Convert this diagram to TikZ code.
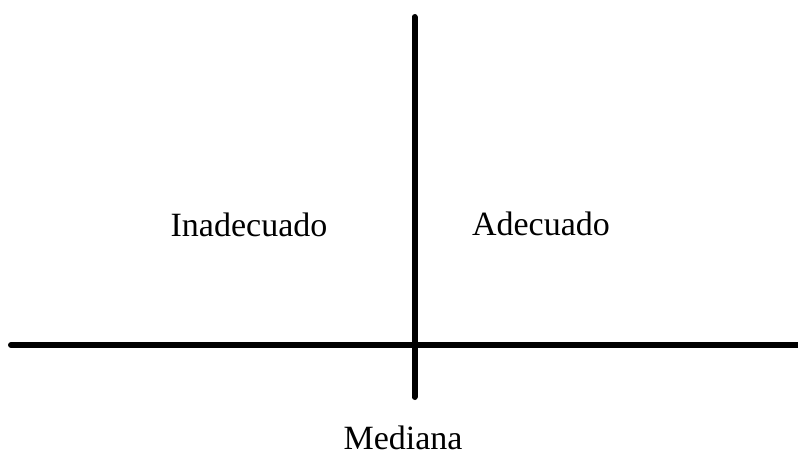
\documentclass[tikz,border=0pt]{standalone}
\usepackage{fontspec}
\setmainfont{Liberation Serif}
\tikzset{
	eje/.style={line width=4.5pt, line cap=round},
	etiqueta/.style={anchor=base, inner sep=0pt, text depth=0pt, font=\fontsize{25.5}{30}\selectfont}
}

\begin{document}
\begin{tikzpicture}[x=0.75pt, y=-0.75pt]
	\useasboundingbox (0,0) rectangle (798,457);
	% ejes
	\coordinate (arriba) at (414.5,17);
	\coordinate (abajo) at (414.5,397);
	\coordinate (izq) at (11,345);
	\coordinate (der) at (801,345);
	\draw [eje] (arriba) -- (abajo);
	\draw [eje] (izq) -- (der);
	% cuadrantes
	\node[etiqueta] (inad) at (249,236.5) {Inadecuado};
	\node[etiqueta] (adec) at (541,235.7) {Adecuado};
	\node[etiqueta] (med) at (403,449) {Mediana};
\end{tikzpicture}
\end{document}
